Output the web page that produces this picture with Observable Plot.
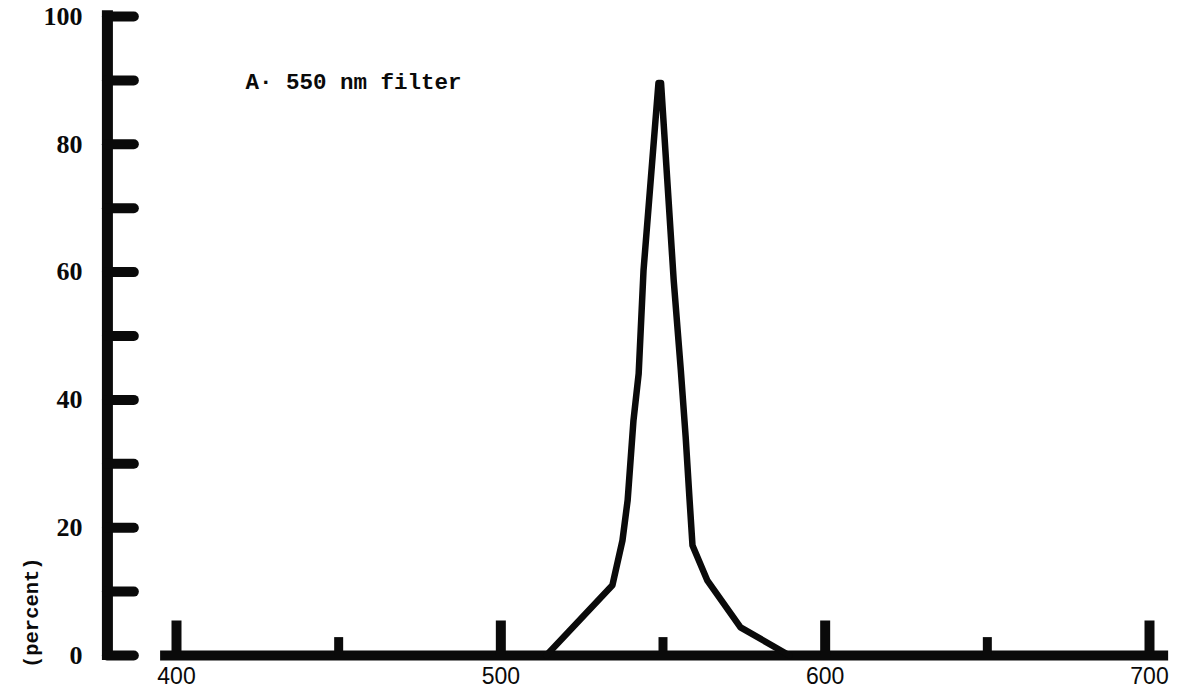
<!DOCTYPE html>
<html><head><meta charset="utf-8">
<script src="https://cdn.jsdelivr.net/npm/d3@7"></script>
<script src="https://cdn.jsdelivr.net/npm/@observablehq/plot@0.6"></script>
<style>body{margin:0;background:#fff}#chart svg{overflow:visible;display:block}</style>
</head><body><div id="chart"></div>
<script>
// Transmission curve of the 550 nm filter
const wavelength   = [514, 534.4, 537.5, 539.1, 540.9, 542.5, 544.0, 548.6, 549.4, 553.3, 555.5, 557.0, 558.2, 559.1, 563.7, 573.9, 589];
const transmission = [0,   11.0,  18.0,  24.3,  36.8,  44.1,  60.3,  89.6,  89.6,  58.7,  44.6,  34.1,  24.3,  17.2,  11.7,  4.4,   0];

const yTicks = [0, 10, 20, 30, 40, 50, 60, 70, 80, 90, 100];
const yLabels = [0, 20, 40, 60, 80, 100];
const xLabels = [400, 500, 600, 700];
const xMajorTicks = [400, 500, 600, 700];
const xMinorTicks = [450, 550, 650];
const titleText = "A· 550 nm filter";
const yTitleText = "(percent)";

const ink = "#0a0a0a";
const data = wavelength.map((w, i) => ({w, t: transmission[i]}));

// axis drawing extents (in data units)
const yAxisX = 378.7, yTickEndX = 387.0;
const xAxisStart = 395.1, xAxisEnd = 705.9;

const chart = Plot.plot({
  width: 1180,
  height: 693,
  marginLeft: 176,
  marginRight: 31,
  marginTop: 16,
  marginBottom: 38,
  x: {domain: [400, 700], axis: null},
  y: {domain: [0, 100], axis: null},
  style: {background: "#fff", overflow: "visible"},
  marks: [
    // y axis line and ticks
    Plot.ruleX([yAxisX], {y1: -0.8, y2: 100.9, stroke: ink, strokeWidth: 11}),
    Plot.ruleY(yTicks, {x1: yAxisX, x2: yTickEndX, stroke: ink, strokeWidth: 10, strokeLinecap: "round"}),
    // x axis line and ticks
    Plot.ruleY([0], {x1: xAxisStart, x2: xAxisEnd, stroke: ink, strokeWidth: 10}),
    Plot.ruleX(xMajorTicks, {y1: 0, y2: 5.4, stroke: ink, strokeWidth: 10}),
    Plot.ruleX(xMinorTicks, {y1: 0, y2: 2.8, stroke: ink, strokeWidth: 9}),
    // curve
    Plot.line(data, {x: "w", y: "t", stroke: ink, strokeWidth: 6.5, strokeLinejoin: "round", strokeLinecap: "round"}),
    // y tick labels
    Plot.text(yLabels, {x: 400, y: d => d, dx: -94, text: d => String(d), textAnchor: "end",
      fontFamily: "Liberation Serif", fontWeight: "bold", fontSize: 26, fill: ink}),
    // x tick labels
    Plot.text(xLabels, {x: d => d, y: 0, dy: 21, text: d => String(d), textAnchor: "middle",
      fontFamily: "Liberation Sans", fontSize: 23, fill: ink}),
    // y title
    Plot.text([yTitleText], {x: 355.3, y: 6.7, text: d => d, rotate: -90, textAnchor: "middle",
      fontFamily: "Liberation Mono", fontWeight: "bold", fontSize: 20.5, fill: ink}),
    // panel title
    Plot.text([titleText], {x: 421.3, y: 89.8, text: d => d, textAnchor: "start",
      fontFamily: "Liberation Mono", fontWeight: "bold", fontSize: 22.5, fill: ink})
  ]
});
document.getElementById("chart").appendChild(chart);
</script>
</body></html>
